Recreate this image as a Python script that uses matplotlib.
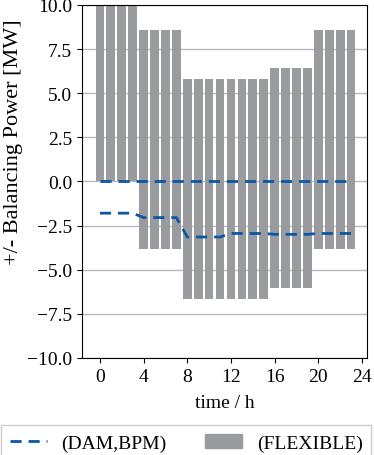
import matplotlib
matplotlib.use('Agg')
import matplotlib.pyplot as plt
import numpy as np
from matplotlib.patches import Patch
from matplotlib.lines import Line2D

hours = list(range(24))
# flexible band, upper / lower edge per hour
flex_up = [10.0]*4 + [8.6]*4 + [5.8]*8 + [6.4]*4 + [8.6]*4
flex_dn = [0.0]*4 + [-3.85]*4 + [-6.65]*8 + [-6.05]*4 + [-3.85]*4
# (DAM,BPM) lines
dam_up = [0.0]*24
dam_dn = [-1.8]*4 + [-2.05]*4 + [-3.15]*4 + [-2.95]*4 + [-3.0]*4 + [-2.95]*4
yticks = [-10.0, -7.5, -5.0, -2.5, 0.0, 2.5, 5.0, 7.5, 10.0]
xticks = [0, 4, 8, 12, 16, 20, 24]

blue = '#0a57a5'
grey = '#9a9b9e'

plt.rcParams['font.family'] = ['Liberation Serif', 'DejaVu Serif']
plt.rcParams['font.size'] = 14

fig = plt.figure(figsize=(3.74, 4.56), dpi=100)
ax = fig.add_axes([0.219, 0.213, 0.762, 0.774])

h = np.array(hours)
up = np.array(flex_up); dn = np.array(flex_dn)
ax.bar(h, up-dn, bottom=dn, width=0.8, color=grey, zorder=2)
ax.plot(h, dam_up, '--', color=blue, lw=2, dashes=(4, 2.5), zorder=3)
ax.plot(h, dam_dn, '--', color=blue, lw=2, dashes=(4, 2.5), zorder=3)

ax.set_ylim(-10, 10)
ax.set_xlim(-1.65, 24.45)
ax.set_yticks(yticks)
ax.set_yticklabels([f'{v:.1f}'.replace('-', '\u2212') for v in yticks])
ax.set_xticks(xticks)
ax.yaxis.grid(True, color='#bbbbbb', lw=1, zorder=0)
ax.set_axisbelow(True)
ax.set_xlabel('time / h', labelpad=7)
ax.set_ylabel('+/- Balancing Power [MW]', fontsize=16)
ax.yaxis.set_label_coords(-0.208, 0.615)

handles = [Line2D([], [], color=blue, lw=2, ls='--', dashes=(4, 2.5)),
           Patch(color=grey)]
fig.legend(handles, ['(DAM,BPM)', '(FLEXIBLE)'], ncol=2, loc='lower left',
           bbox_to_anchor=(0.003, -0.012, 0.99, 0.09), fancybox=False,
           edgecolor='#cccccc', framealpha=1, mode='expand', borderaxespad=0,
           handlelength=1.9, handletextpad=0.75, borderpad=0.45)

fig.savefig('out.png', dpi=100)
